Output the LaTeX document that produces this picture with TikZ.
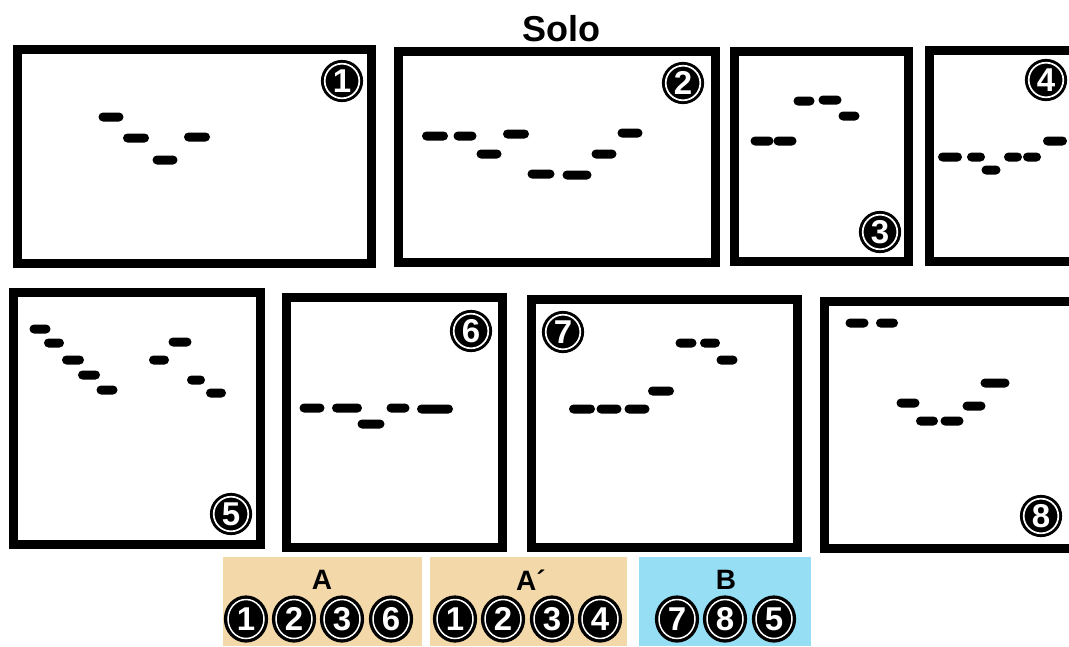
\documentclass[tikz,border=0pt]{standalone}
\usepackage{fontspec}
\setmainfont{Liberation Sans}
\usetikzlibrary{shapes.geometric}
\definecolor{tanbox}{RGB}{243,216,170}
\definecolor{bluebox}{RGB}{150,222,244}
\begin{document}
\begin{tikzpicture}[x=1pt,y=-1pt,
  frame/.style={line width=9pt, draw=black},
  dbar/.style={fill=black, draw=none, rounded corners=4.5pt, minimum height=9pt, inner sep=0pt},
  flabel/.style={circle, fill=black, draw=black, line width=1.2pt, minimum size=41pt, inner sep=0pt, text=white, font=\bfseries\fontsize{33}{33}\selectfont},
  blabel/.style={ellipse, fill=black, draw=black, line width=1.2pt, minimum width=43pt, minimum height=46pt, inner sep=0pt, text=white, font=\bfseries\fontsize{33}{33}\selectfont},
  boxtitle/.style={font=\bfseries\fontsize{28}{28}\selectfont}
]
\path[use as bounding box] (0,0) rectangle (1069,646);
\clip (0,0) rectangle (1069,646);
\fill[white] (0,0) rectangle (1069,646);

% title
\node[font=\bfseries\fontsize{36}{36}\selectfont] (title) at (561,29) {Solo};

% frames
\draw[frame] (17.5,49.5) rectangle (371.5,263.5);
\draw[frame] (398.5,51.5) rectangle (715.5,262.5);
\draw[frame] (734.5,51.5) rectangle (908.5,261.5);
\draw[frame] (929.5,50.5) rectangle (1095,261.5);
\draw[frame] (13.5,292.5) rectangle (260.5,544.5);
\draw[frame] (286.5,297.5) rectangle (502.5,547.5);
\draw[frame] (531.5,299.5) rectangle (797.5,547.5);
\draw[frame] (824.5,301.5) rectangle (1095,548.5);

% bars
\foreach \x/\y/\w [count=\i] in {111/117/25, 136/138/26, 165/160/25, 197/137/26}
  \node[dbar, minimum width=\w pt] (fa\i) at (\x,\y) {};
\foreach \x/\y/\w [count=\i] in {435/136/26, 465/136/23, 489/154/25, 516/134/26, 541/174/27, 577/175/29, 604/154/25, 630/133/25}
  \node[dbar, minimum width=\w pt] (fb\i) at (\x,\y) {};
\foreach \x/\y/\w [count=\i] in {762/141/23, 785/141/23, 804/101/21, 830/100/23, 849/116/21}
  \node[dbar, minimum width=\w pt] (fc\i) at (\x,\y) {};
\foreach \x/\y/\w [count=\i] in {950/157/24, 976/157/18, 991/170/19, 1013/157/18, 1032/157/18, 1055/141/24}
  \node[dbar, minimum width=\w pt] (fd\i) at (\x,\y) {};
\foreach \x/\y/\w [count=\i] in {40/329/21, 54/343/20, 73/360/22, 89/375/22, 107/390/21, 159/360/20, 180/342/23, 196/380/18, 216/393/20}
  \node[dbar, minimum width=\w pt] (fe\i) at (\x,\y) {};
\foreach \x/\y/\w [count=\i] in {312/408/25, 347/408/30, 371/424/27, 398/408/23, 435/409/36}
  \node[dbar, minimum width=\w pt] (ff\i) at (\x,\y) {};
\foreach \x/\y/\w [count=\i] in {582/409/26, 609/409/25, 637/409/25, 661/391/26, 686/343/21, 710/343/20, 727/360/21}
  \node[dbar, minimum width=\w pt] (fg\i) at (\x,\y) {};
\foreach \x/\y/\w [count=\i] in {857/323/23, 887/323/22, 908/403/23, 927/421/22, 952/421/23, 974/406/23, 995/383/29}
  \node[dbar, minimum width=\w pt] (fh\i) at (\x,\y) {};

% frame labels
\foreach \x/\y/\d [count=\i] in {342/81/1, 683/83/2, 880/232/3, 1046/80/4, 231/514/5, 471/331/6, 563/332/7, 1041/516/8} {
  \node[flabel] (lab\i) at (\x,\y) {\d};
  \draw[white, line width=1.7pt] (lab\i.center) circle (17.3pt);
}

% bottom boxes
\fill[tanbox] (223,557) rectangle (422,646);
\fill[tanbox] (430,557) rectangle (627,646);
\fill[bluebox] (639,557) rectangle (811,646);
\node[boxtitle] (tA) at (322,580) {A};
\node[boxtitle] (tAp) at (531,580) {A´};
\node[boxtitle] (tB) at (726,580) {B};

\foreach \x/\d [count=\i] in {246/1, 294/2, 342/3, 391/6, 455/1, 503/2, 552/3, 600/4, 677/7, 725/8, 774/5} {
  \node[blabel] (b\i) at (\x,619) {\d};
  \draw[white, line width=1.5pt] (b\i.center) ellipse (18pt and 19.5pt);
}
\end{tikzpicture}
\end{document}
